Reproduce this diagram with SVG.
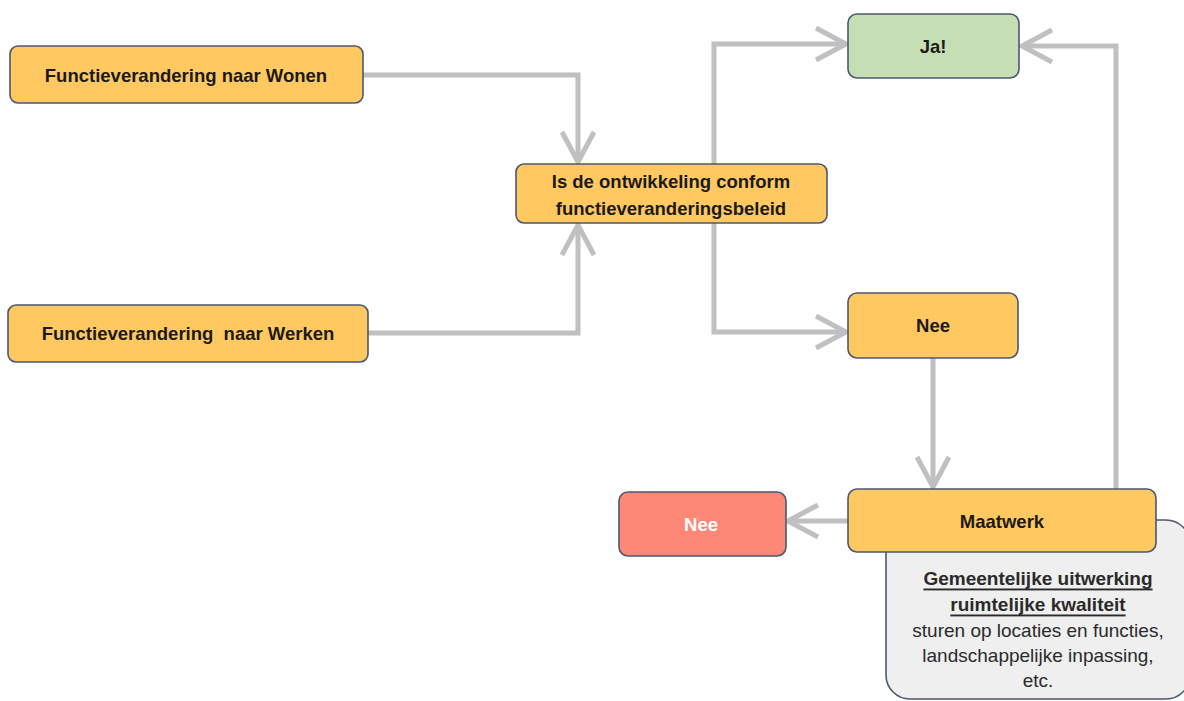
<svg xmlns="http://www.w3.org/2000/svg" width="1184" height="701" viewBox="0 0 1184 701">
<style>
.box{stroke:#4b5870;stroke-width:1.6}
.or{fill:#ffc860}
.gr{fill:#c5deb3}
.rd{fill:#fe8877}
.t{font-family:"Liberation Sans",Arial,sans-serif;font-weight:bold;font-size:18.5px;fill:#1b1b1b;text-anchor:middle;dominant-baseline:central}
.n{font-family:"Liberation Sans",Arial,sans-serif;font-size:19px;fill:#2a2a2a;text-anchor:middle;dominant-baseline:central}
.c{fill:none;stroke:#c0c0c0;stroke-width:5}
</style>
<defs>
<marker id="ah" markerUnits="userSpaceOnUse" viewBox="0 0 36 38" markerWidth="36" markerHeight="38" refX="33" refY="19" orient="auto">
<path d="M3,3 L33,19 L3,35" fill="none" stroke="#c0c0c0" stroke-width="5"/>
</marker>
</defs>
<rect width="1184" height="701" fill="#ffffff"/>
<g id="connectors">
<path class="c" d="M363,75 H578 V162" marker-end="url(#ah)"/>
<path class="c" d="M368,333 H578 V225" marker-end="url(#ah)"/>
<path class="c" d="M714,164 V44 H846" marker-end="url(#ah)"/>
<path class="c" d="M714,223 V332 H846" marker-end="url(#ah)"/>
<path class="c" d="M933,358 V487" marker-end="url(#ah)"/>
<path class="c" d="M1116,489 V46 H1022" marker-end="url(#ah)"/>
<path class="c" d="M848,521 H788" marker-end="url(#ah)"/>
</g>
<g id="note">
<rect x="886" y="520" width="304" height="179" rx="24" fill="#efefef" stroke="#4b5870" stroke-width="1.6"/>
<text class="n" x="1038" y="578" font-weight="bold" text-decoration="underline" font-size="18px">Gemeentelijke uitwerking</text>
<text class="n" x="1038" y="604" font-weight="bold" text-decoration="underline" font-size="18px">ruimtelijke kwaliteit</text>
<text class="n" x="1038" y="630">sturen op locaties en functies,</text>
<text class="n" x="1038" y="655">landschappelijke inpassing,</text>
<text class="n" x="1038" y="680">etc.</text>
</g>
<g id="wonen">
<rect class="box or" x="10" y="46" width="353" height="57" rx="8"/>
<text class="t" x="186" y="75">Functieverandering naar Wonen</text>
</g>
<g id="werken">
<rect class="box or" x="8" y="305" width="360" height="57" rx="8"/>
<text class="t" x="188" y="333" xml:space="preserve">Functieverandering  naar Werken</text>
</g>
<g id="beleid">
<rect class="box or" x="516" y="164" width="311" height="59" rx="8"/>
<text class="t" x="671" y="181">Is de ontwikkeling conform</text>
<text class="t" x="671" y="208">functieveranderingsbeleid</text>
</g>
<g id="ja">
<rect class="box gr" x="848" y="14" width="171" height="64" rx="9"/>
<text class="t" x="933" y="46">Ja!</text>
</g>
<g id="nee1">
<rect class="box or" x="848" y="293" width="170" height="65" rx="9"/>
<text class="t" x="933" y="325">Nee</text>
</g>
<g id="maatwerk">
<rect class="box or" x="848" y="489" width="308" height="63" rx="9"/>
<text class="t" x="1002" y="521">Maatwerk</text>
</g>
<g id="nee2">
<rect class="box rd" x="619" y="492" width="167" height="64" rx="9"/>
<text class="t" x="701" y="524" style="fill:#ffffff">Nee</text>
</g>
</svg>
